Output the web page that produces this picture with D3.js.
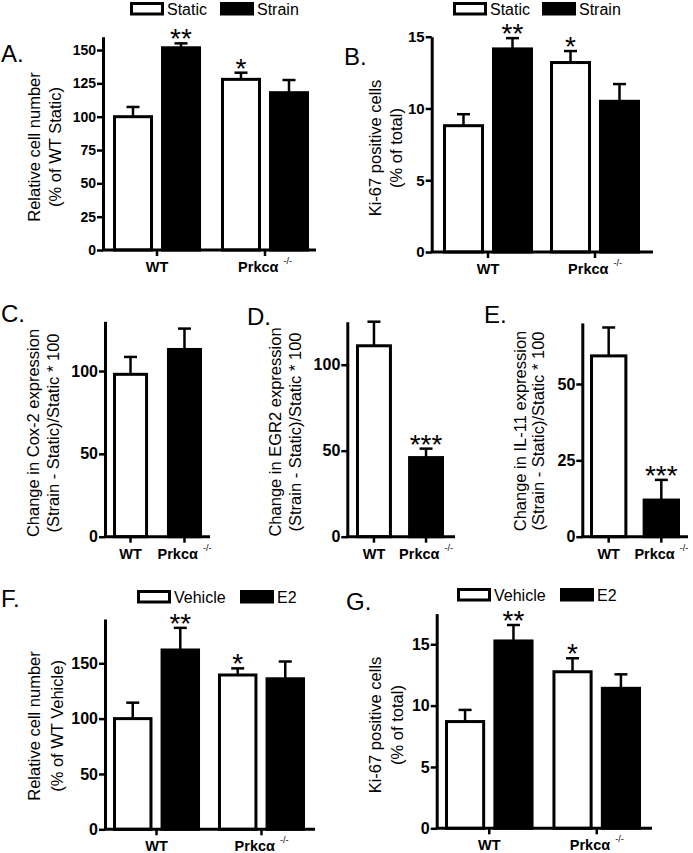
<!DOCTYPE html>
<html>
<head>
<meta charset="utf-8">
<script src="https://cdn.jsdelivr.net/npm/d3@7"></script>
<style>
  body { margin: 0; background: #fff; }
  text { font-family: "Liberation Sans", Arial, sans-serif; fill: #000; }
</style>
</head>
<body>
<div id="chart"></div>
<script>
// Values (bar height = mean, error = SEM)
const genotypes = ["WT", "Prkcα"];
const strainGroups = ["Static", "Strain"];
const e2Groups = ["Vehicle", "E2"];

// A. relative cell number, static vs strain
const cellStatic = [100, 128];
const cellStaticSem = [7.3, 5];
const cellStrain = [151.7, 118];
const cellStrainSem = [3.3, 9.5];
const cellTicks = [0, 25, 50, 75, 100, 125, 150];

// B. Ki-67 positive cells, static vs strain
const ki67Static = [8.8, 13.2];
const ki67StaticSem = [0.8, 0.8];
const ki67Strain = [14.15, 10.5];
const ki67StrainSem = [0.75, 1.2];
const ki67Ticks = [0, 5, 10, 15];

// C, D, E. change in expression (strain vs static)
const cox2Change = [98, 113];
const cox2Sem = [10.5, 12.6];
const egr2Change = [111, 46];
const egr2Sem = [14, 5.2];
const il11Change = [59.2, 12];
const il11Sem = [9.3, 6.6];
const exprTicks = [0, 50, 100];
const il11Ticks = [0, 25, 50];

// F. relative cell number, vehicle vs E2
const e2CellVehicle = [100, 139.4];
const e2CellVehicleSem = [14.4, 6];
const e2CellE2 = [162, 136];
const e2CellE2Sem = [20, 15.6];
const e2CellTicks = [0, 50, 100, 150];

// G. Ki-67 positive cells, vehicle vs E2
const e2Ki67Vehicle = [8.7, 12.76];
const e2Ki67VehicleSem = [0.95, 1.1];
const e2Ki67E2 = [15.27, 11.41];
const e2Ki67E2Sem = [1.3, 1.14];

const svg = d3.select("#chart").append("svg")
  .attr("width", 693)
  .attr("height", 853);

function drawPanel(p) {
  const g = svg.append("g");
  const y = d3.scaleLinear().domain([0, p.yMax]).range([p.yZero, p.yTop]);
  const x = d3.scaleBand().domain(genotypes).range(p.barRange).paddingInner(p.pad);
  const xs = d3.scaleBand()
    .domain(p.series.map(s => s.name))
    .range([0, x.bandwidth()])
    .paddingInner(p.subPad || 0);

  // bars + error bars + stars
  p.series.forEach(s => {
    const rows = genotypes.map((gn, i) => ({
      g: gn, v: s.values[i], e: s.sems[i], star: s.stars[i],
      fill: s.fills ? s.fills[i] : s.fill
    }));
    const cx = d => x(d.g) + xs(s.name) + xs.bandwidth() / 2;

    g.selectAll(null).data(rows).join("rect")
      .attr("x", d => x(d.g) + xs(s.name) + 1.5)
      .attr("y", d => y(d.v))
      .attr("width", xs.bandwidth() - 3)
      .attr("height", d => y(0) - y(d.v))
      .attr("fill", d => d.fill)
      .attr("stroke", "#000")
      .attr("stroke-width", 3);

    g.selectAll(null).data(rows).join("line")
      .attr("x1", cx).attr("x2", cx)
      .attr("y1", d => y(d.v)).attr("y2", d => y(d.v + d.e))
      .attr("stroke", "#000").attr("stroke-width", 2.5);

    g.selectAll(null).data(rows).join("line")
      .attr("x1", d => cx(d) - 6.5).attr("x2", d => cx(d) + 6.5)
      .attr("y1", d => y(d.v + d.e)).attr("y2", d => y(d.v + d.e))
      .attr("stroke", "#000").attr("stroke-width", 2.5);

    g.selectAll(null).data(rows.filter(d => d.star)).join("text")
      .attr("x", cx)
      .attr("y", d => y(d.v + d.e) + 5)
      .attr("text-anchor", "middle")
      .style("font-size", "28px")
      .text(d => d.star);
  });

  // y axis
  g.append("g")
    .attr("transform", `translate(${p.axisX},0)`)
    .call(d3.axisLeft(y).tickValues(p.ticks).tickSize(6).tickSizeOuter(0).tickPadding(1))
    .call(a => a.select(".domain").attr("stroke-width", 3))
    .call(a => a.selectAll(".tick line").attr("stroke-width", 2.5))
    .call(a => a.selectAll(".tick text")
      .style("font-size", p.tickFont + "px")
      .style("font-weight", "bold"));

  // x axis
  g.append("line")
    .attr("x1", p.axisX - 1).attr("x2", p.xEnd)
    .attr("y1", y(0)).attr("y2", y(0))
    .attr("stroke", "#000").attr("stroke-width", 3);

  const xa = g.append("g")
    .attr("transform", `translate(0,${y(0)})`)
    .call(d3.axisBottom(x).tickSize(6).tickFormat(""))
    .call(a => a.select(".domain").remove());
  xa.selectAll(".tick line").attr("stroke-width", 2.5);
  xa.selectAll(".tick text")
    .attr("y", 22).attr("dy", null)
    .style("font-size", "14.5px").style("font-weight", "bold")
    .each(function(d) {
      const t = d3.select(this);
      t.append("tspan").text(d);
      if (d !== "WT") {
        t.append("tspan").attr("dx", 5).attr("dy", -8)
          .style("font-size", "9px").style("font-weight", "normal")
          .text("-/-");
      }
    });

  // y axis title (two lines)
  const cy = p.labelY;
  p.yLabel.forEach((line, i) => {
    g.append("text")
      .attr("transform", `translate(${p.labelX[i]},${cy}) rotate(-90)`)
      .attr("text-anchor", "middle")
      .attr("dy", "0.35em")
      .style("font-size", "16.5px")
      .text(line);
  });

  // panel letter
  g.append("text")
    .attr("x", p.letterPos[0]).attr("y", p.letterPos[1])
    .style("font-size", "24px")
    .text(p.letter);

  // legend
  if (p.legend) {
    p.series.forEach((s, i) => {
      const lx = p.legend.x[i];
      g.append("rect")
        .attr("x", lx + 1.5).attr("y", p.legend.y + 1.5)
        .attr("width", 31).attr("height", 10.5)
        .attr("fill", s.fill).attr("stroke", "#000").attr("stroke-width", 3);
      g.append("text")
        .attr("x", lx + 37).attr("y", p.legend.y + 13)
        .style("font-size", "16px")
        .text(s.name);
    });
  }
}

drawPanel({
  letter: "A.", letterPos: [1, 62],
  axisX: 103, xEnd: 316, yZero: 250, yTop: 36.7, yMax: 160, ticks: cellTicks, tickFont: 14,
  barRange: [113, 309], pad: 0.185, subPad: 0.167,
  series: [
    { name: strainGroups[0], fill: "#fff", values: cellStatic, sems: cellStaticSem, stars: ["", "*"] },
    { name: strainGroups[1], fill: "#000", values: cellStrain, sems: cellStrainSem, stars: ["**", ""] }
  ],
  yLabel: ["Relative cell number", "(% of WT Static)"], labelX: [34, 55], labelY: 147,
  legend: { x: [130, 220], y: 2 }
});

drawPanel({
  letter: "B.", letterPos: [344, 65],
  axisX: 431.7, xEnd: 653, yZero: 252, yTop: 36.7, yMax: 15, ticks: ki67Ticks, tickFont: 15,
  barRange: [443, 640], pad: 0.159, subPad: 0.163,
  series: [
    { name: strainGroups[0], fill: "#fff", values: ki67Static, sems: ki67StaticSem, stars: ["", "*"] },
    { name: strainGroups[1], fill: "#000", values: ki67Strain, sems: ki67StrainSem, stars: ["**", ""] }
  ],
  yLabel: ["Ki-67 positive cells", "(% of total)"], labelX: [375, 396], labelY: 148,
  legend: { x: [453, 542], y: 2 }
});

drawPanel({
  letter: "C.", letterPos: [1, 322],
  axisX: 105, xEnd: 210, yZero: 536.7, yTop: 321.3, yMax: 130, ticks: exprTicks, tickFont: 16,
  barRange: [113, 202], pad: 0.35,
  series: [
    { name: "change", fills: ["#fff", "#000"], values: cox2Change, sems: cox2Sem, stars: ["", ""] }
  ],
  yLabel: ["Change in Cox-2 expression", "(Strain - Static)/Static * 100"], labelX: [33, 53], labelY: 433
});

drawPanel({
  letter: "D.", letterPos: [247, 325],
  axisX: 347.3, xEnd: 455, yZero: 536.7, yTop: 321.7, yMax: 125, ticks: exprTicks, tickFont: 16,
  barRange: [356, 444], pad: 0.31,
  series: [
    { name: "change", fills: ["#fff", "#000"], values: egr2Change, sems: egr2Sem, stars: ["", "***"] }
  ],
  yLabel: ["Change in EGR2 expression", "(Strain - Static)/Static * 100"], labelX: [275, 295], labelY: 432
});

drawPanel({
  letter: "E.", letterPos: [484, 323],
  axisX: 582.3, xEnd: 688, yZero: 536.7, yTop: 322.9, yMax: 70, ticks: il11Ticks, tickFont: 16,
  barRange: [590, 680], pad: 0.29,
  series: [
    { name: "change", fills: ["#fff", "#000"], values: il11Change, sems: il11Sem, stars: ["", "***"] }
  ],
  yLabel: ["Change in IL-11 expression", "(Strain - Static)/Static * 100"], labelX: [520, 538], labelY: 431
});

drawPanel({
  letter: "F.", letterPos: [1, 607],
  axisX: 105, xEnd: 315, yZero: 829.3, yTop: 619, yMax: 190, ticks: e2CellTicks, tickFont: 16,
  barRange: [113, 305], pad: 0.171, subPad: 0.17,
  series: [
    { name: e2Groups[0], fill: "#fff", values: e2CellVehicle, sems: e2CellVehicleSem, stars: ["", "*"] },
    { name: e2Groups[1], fill: "#000", values: e2CellE2, sems: e2CellE2Sem, stars: ["**", ""] }
  ],
  yLabel: ["Relative cell number", "(% of WT Vehicle)"], labelX: [34, 57], labelY: 726,
  legend: { x: [137, 240], y: 590 }
});

drawPanel({
  letter: "G.", letterPos: [346, 610],
  axisX: 436.7, xEnd: 652, yZero: 828.3, yTop: 613.6, yMax: 17.5, ticks: ki67Ticks, tickFont: 16,
  barRange: [445, 641], pad: 0.176, subPad: 0.17,
  series: [
    { name: e2Groups[0], fill: "#fff", values: e2Ki67Vehicle, sems: e2Ki67VehicleSem, stars: ["", "*"] },
    { name: e2Groups[1], fill: "#000", values: e2Ki67E2, sems: e2Ki67E2Sem, stars: ["**", ""] }
  ],
  yLabel: ["Ki-67 positive cells", "(% of total)"], labelX: [375, 397], labelY: 725,
  legend: { x: [457, 560], y: 588 }
});
</script>
</body>
</html>
